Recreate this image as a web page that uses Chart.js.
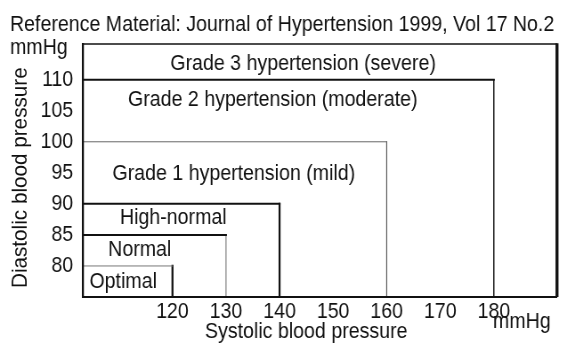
<!DOCTYPE html>
<html>
<head>
<meta charset="utf-8">
<script src="https://cdn.jsdelivr.net/npm/chart.js@4.4.1/dist/chart.umd.min.js"></script>
<style>
  html, body { margin: 0; padding: 0; background: #fff; overflow: hidden; }
  #wrap { width: 567px; height: 343px; overflow: hidden; }
  /* the face is a condensed sans: draw wide, then squeeze */
  #bp { display: block; transform: scaleX(0.8901); transform-origin: 0 0; }
</style>
</head>
<body>
<div id="wrap"><canvas id="bp" width="637" height="343" style="width:637px;height:343px"></canvas></div>
<script>
const TITLE   = 'Reference Material: Journal of Hypertension 1999, Vol 17 No.2';
const X_TITLE = 'Systolic blood pressure';
const Y_TITLE = 'Diastolic blood pressure';
const UNIT    = 'mmHg';

const categories = [
  'Optimal',
  'Normal',
  'High-normal',
  'Grade 1 hypertension (mild)',
  'Grade 2 hypertension (moderate)',
  'Grade 3 hypertension (severe)'
];
// upper limits of each class (grade 3 is open-ended)
const systolicUpper  = [120, 130, 140, 160, 180];
const diastolicUpper = [80, 85, 90, 100, 110];

const xTicks = [120, 130, 140, 150, 160, 170, 180];
const yTicks = [80, 85, 90, 95, 100, 105, 110];

const X_MIN = 103.3, X_MAX = 191.8;
const Y_MIN = 75,    Y_MAX = 115.75;

// text anchor of each class name (systolic, diastolic at the baseline)
const labelAt = [[104.5, 76.4], [108, 81.6], [110.2, 86.7], [108.8, 93.8], [111.7, 105.8], [119.6, 111.6]];

const SQ   = 567 / 637;
const FONT = '"Liberation Sans", Arial, sans-serif';
const INK  = '#111';

// [top width, top colour, right width, right colour]
const edgeStyle = [
  [1, '#777', 2,   '#111'],
  [2, '#111', 1,   '#777'],
  [2, '#111', 2,   '#111'],
  [1, '#666', 1,   '#555'],
  [2, '#111', 1.3, '#111']
];

const datasets = [];
systolicUpper.forEach((sbp, i) => {
  const dbp = diastolicUpper[i];
  const [tw, tc, rw, rc] = edgeStyle[i];
  datasets.push({
    label: categories[i] + ' (dbp)',
    data: [{ x: X_MIN, y: dbp }, { x: sbp, y: dbp }],
    borderColor: tc, borderWidth: tw
  });
  datasets.push({
    label: categories[i] + ' (sbp)',
    data: [{ x: sbp, y: dbp }, { x: sbp, y: Y_MIN }],
    borderColor: rc, borderWidth: rw / SQ
  });
});

const decor = {
  id: 'decor',
  beforeDatasetsDraw(chart) {
    const { ctx, chartArea: a } = chart;
    ctx.save();
    ctx.strokeStyle = '#111';
    ctx.lineWidth = 1.5;
    ctx.beginPath(); ctx.moveTo(a.left, a.top); ctx.lineTo(a.right, a.top); ctx.stroke();
    ctx.lineWidth = 3 / SQ;
    ctx.beginPath(); ctx.moveTo(a.right, a.top - 0.75); ctx.lineTo(a.right, a.bottom); ctx.stroke();
    ctx.restore();
  },
  afterDraw(chart) {
    const { ctx, scales: { x, y } } = chart;
    ctx.save();
    ctx.fillStyle = INK;
    ctx.font = `22px ${FONT}`;
    ctx.textAlign = 'left';
    ctx.textBaseline = 'alphabetic';
    categories.forEach((name, i) => {
      ctx.fillText(name, x.getPixelForValue(labelAt[i][0]), y.getPixelForValue(labelAt[i][1]));
    });
    ctx.fillText(TITLE, 10 / SQ, 31);
    ctx.fillText(UNIT, 10 / SQ, 54);
    ctx.fillText(UNIT, 493 / SQ, 328);
    ctx.fillText(X_TITLE, 205 / SQ, 338);

    // vertical title keeps full glyph height, run length slightly condensed
    ctx.translate(27 / SQ, 288);
    ctx.scale(1 / SQ, 1);
    ctx.rotate(-Math.PI / 2);
    ctx.scale(0.94, 1);
    ctx.fillText(Y_TITLE, 0, 0);
    ctx.restore();
  }
};

new Chart(document.getElementById('bp'), {
  type: 'scatter',
  data: { datasets },
  options: {
    responsive: false,
    animation: false,
    devicePixelRatio: 1,
    showLine: true,
    layout: { padding: { top: 44, right: 10 / SQ, bottom: 0, left: 0 } },
    elements: {
      point: { radius: 0, hoverRadius: 0 },
      line: { tension: 0, fill: false, borderCapStyle: 'square' }
    },
    plugins: { legend: { display: false }, tooltip: { enabled: false } },
    scales: {
      x: {
        type: 'linear', min: X_MIN, max: X_MAX,
        grid: { display: false, drawTicks: false },
        border: { display: true, color: '#111', width: 2, z: 1 },
        afterBuildTicks: s => { s.ticks = xTicks.map(v => ({ value: v })); },
        afterFit: s => { s.height = 46; },
        ticks: { font: { family: FONT, size: 22 }, color: INK, padding: 2, maxRotation: 0, autoSkip: false }
      },
      y: {
        type: 'linear', min: Y_MIN, max: Y_MAX,
        grid: { display: false, drawTicks: false },
        border: { display: true, color: '#111', width: 2 / SQ, z: 1 },
        afterBuildTicks: s => { s.ticks = yTicks.map(v => ({ value: v })); },
        afterFit: s => { s.width = 83 / SQ; },
        ticks: { font: { family: FONT, size: 22 }, color: INK, padding: 11, autoSkip: false }
      }
    }
  },
  plugins: [decor]
});
</script>
</body>
</html>
